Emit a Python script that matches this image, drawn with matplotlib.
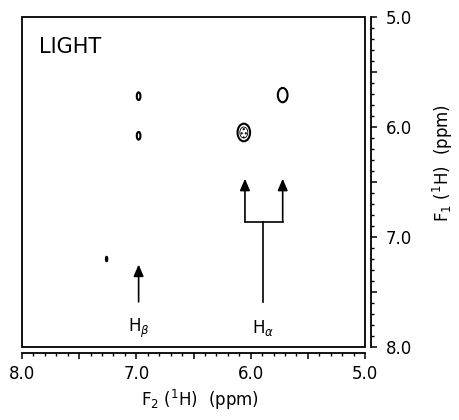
import matplotlib
matplotlib.use("Agg")
import matplotlib.pyplot as plt
from matplotlib.patches import Ellipse, Rectangle
from matplotlib.ticker import MultipleLocator

# cross peaks (F2 ppm, F1 ppm) and rough widths in ppm
peak_f2 = [6.98, 6.98, 6.06, 5.72, 7.26]
peak_f1 = [5.72, 6.08, 6.05, 5.71, 7.20]
peak_w = [0.032, 0.032, 0.11, 0.085, 0.012]
peak_h = [0.07, 0.07, 0.16, 0.13, 0.04]

ticks = [8.0, 7.5, 7.0, 6.5, 6.0, 5.5, 5.0]
tick_labels = ["8.0", "", "7.0", "", "6.0", "", "5.0"]

fig = plt.figure(figsize=(4.59, 4.2), dpi=100)
ax = fig.add_axes([22 / 459, 1 - 347 / 420, 343 / 459, 330 / 420])
ax.set_xlim(8.0, 5.0)
ax.set_ylim(8.0, 5.0)

for x, y, w, h in zip(peak_f2, peak_f1, peak_w, peak_h):
    ax.add_patch(Ellipse((x, y), w, h, facecolor="white", edgecolor="black", lw=1.5))
ax.add_patch(Ellipse((peak_f2[2], peak_f1[2]), 0.07, 0.1, facecolor="none",
                     edgecolor="black", lw=0.6, hatch="...."))

# box
ax.add_patch(Rectangle((0, 0), 1, 1, transform=ax.transAxes, fill=False,
                       lw=1.3, color="black", clip_on=False))
for s in ["top", "left"]:
    ax.spines[s].set_visible(False)
ax.spines["bottom"].set_position(("outward", 4))
ax.spines["right"].set_position(("outward", 4))
ax.spines["bottom"].set_linewidth(1.3)
ax.spines["right"].set_linewidth(1.3)
ax.yaxis.tick_right()
ax.tick_params(axis="x", direction="out", length=4, width=1.1, labelsize=12, pad=5)
ax.tick_params(axis="y", direction="out", length=4, width=1.1, labelsize=12, pad=7)
ax.tick_params(which="minor", direction="out", length=2.2, width=1.0)
ax.set_xticks(ticks)
ax.set_xticklabels(tick_labels)
ax.set_yticks(ticks)
ax.set_yticklabels(tick_labels)
ax.xaxis.set_minor_locator(MultipleLocator(0.1))
ax.yaxis.set_minor_locator(MultipleLocator(0.1))

ax.text(0.05, 0.94, "LIGHT", transform=ax.transAxes, fontsize=15, va="top", ha="left")

# H-beta arrow
ap = dict(arrowstyle="-|>,head_length=0.7,head_width=0.3", lw=1.2, color="black",
          shrinkA=0, shrinkB=0)
ax.annotate("", xy=(6.98, 7.25), xytext=(6.98, 7.59), arrowprops=ap)
ax.text(6.98, 7.83, r"H$_\beta$", fontsize=12, ha="center", va="center")

# H-alpha bracket
ax.plot([5.89, 5.89], [7.59, 6.86], color="black", lw=1.2)
ax.plot([6.05, 5.72], [6.86, 6.86], color="black", lw=1.2)
ax.annotate("", xy=(6.05, 6.47), xytext=(6.05, 6.86), arrowprops=ap)
ax.annotate("", xy=(5.72, 6.47), xytext=(5.72, 6.86), arrowprops=ap)
ax.text(5.89, 7.83, r"H$_\alpha$", fontsize=12, ha="center", va="center")

fig.text(200 / 459, 1 - 400 / 420, r"F$_2$ ($^1$H)  (ppm)", fontsize=12,
         ha="center", va="center")
fig.text(443 / 459, 1 - 163 / 420, r"F$_1$ ($^1$H)  (ppm)", fontsize=12,
         ha="center", va="center", rotation=90)

fig.savefig("out.png", dpi=100)
